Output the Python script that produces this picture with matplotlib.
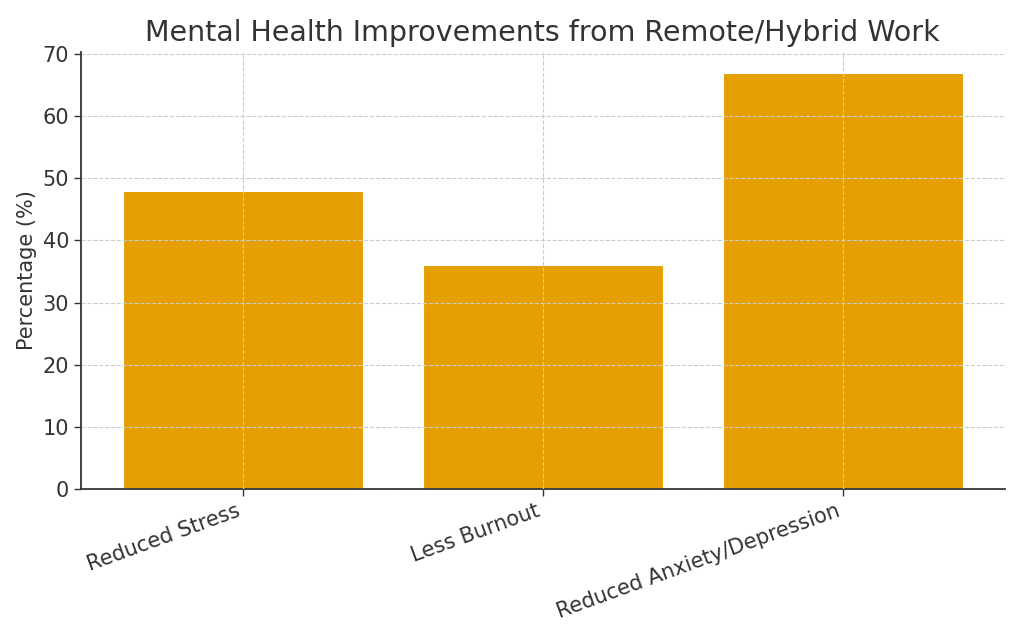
import matplotlib.pyplot as plt

# 数据
categories = ['Reduced Stress', 'Less Burnout', 'Reduced Anxiety/Depression']
percentages = [48, 36, 67]

fig, ax = plt.subplots(figsize=(10.24, 6.4), dpi=100)

ax.bar(categories, percentages, color='#E69F00', edgecolor='white', linewidth=0.8, width=0.8)

ax.set_title('Mental Health Improvements from Remote/Hybrid Work', fontsize=20.5, color='#333333', pad=8)
ax.set_ylabel('Percentage (%)', fontsize=15, color='#333333')
ax.tick_params(axis='both', labelsize=15, colors='#333333', length=5, width=1)
plt.setp(ax.get_xticklabels(), rotation=20, ha='right')

# 网格画在柱子上面
ax.set_axisbelow(False)
ax.grid(True, linestyle='--', color='#cccccc', linewidth=0.8)

for side in ['top', 'right']:
    ax.spines[side].set_visible(False)
for side in ['left', 'bottom']:
    ax.spines[side].set_color('#333333')
    ax.spines[side].set_linewidth(1.3)

fig.subplots_adjust(left=0.079, right=0.981, bottom=0.236, top=0.919)
plt.savefig('out.png')
